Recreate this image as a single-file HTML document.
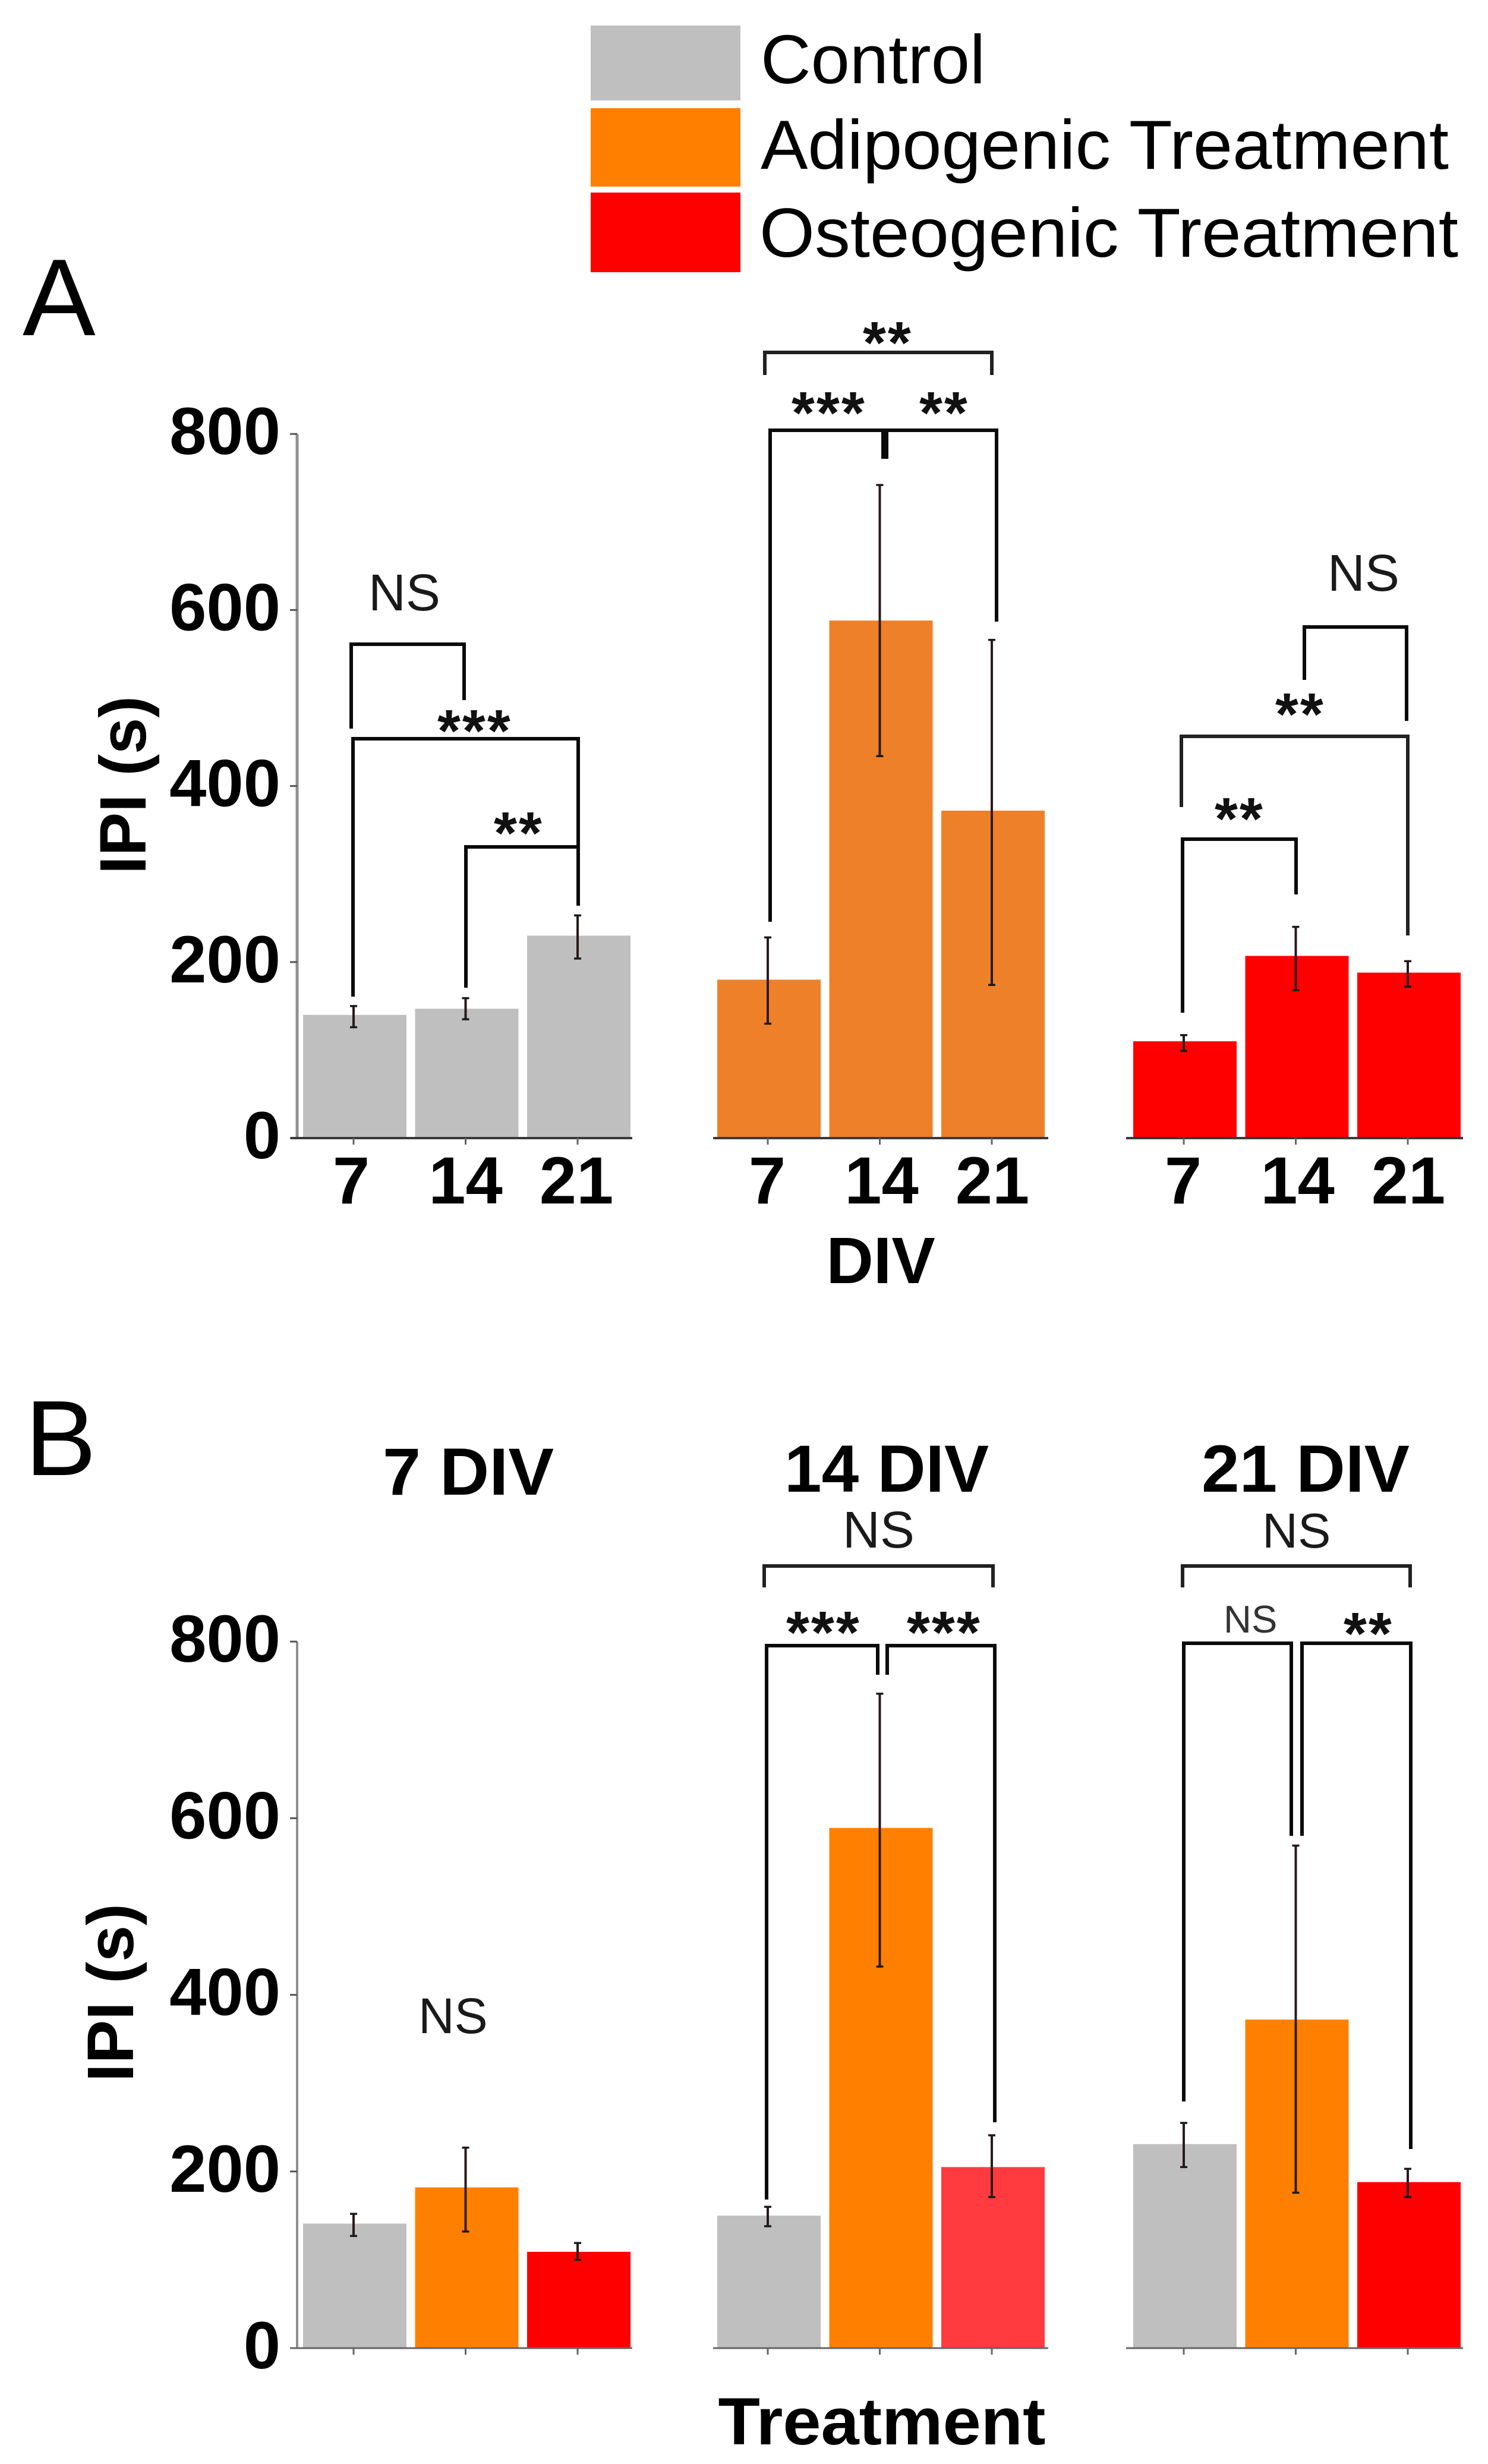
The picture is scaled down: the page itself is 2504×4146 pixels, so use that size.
<!DOCTYPE html>
<html lang="en">
<head>
<meta charset="utf-8">
<title>IPI by DIV and treatment</title>
<style>
html,body{margin:0;padding:0;background:#fff;width:2504px;height:4146px;overflow:hidden}
svg{display:block}
text{font-family:"Liberation Sans",Arial,sans-serif;fill:#000}
.b{fill:none;stroke:#0a0a0a;stroke-width:6;stroke-linejoin:miter}
.n{fill:none;stroke:#222;stroke-width:6}
.ns{font-size:87px;fill:#1a1a1a}
.st{font-size:100px;font-weight:700;fill:#111;letter-spacing:3px}
.ti{font-size:112px;font-weight:700}
</style>
</head>
<body>
<svg id="chart" xmlns="http://www.w3.org/2000/svg" width="2504" height="4146" viewBox="0 0 2504 4146">
  <rect width="2504" height="4146" fill="#fff"/>
  <g>
    <rect x="994" y="43" width="252" height="126" fill="#bfbfbf"/>
    <rect x="994" y="182" width="252" height="132" fill="#ff8000"/>
    <rect x="994" y="324" width="252" height="134" fill="#ff0000"/>
    <text x="1280" y="140" font-size="116" textLength="378" lengthAdjust="spacingAndGlyphs">Control</text>
    <text x="1280" y="284" font-size="117" textLength="1158" lengthAdjust="spacingAndGlyphs">Adipogenic Treatment</text>
    <text x="1278" y="432" font-size="117" textLength="1176" lengthAdjust="spacingAndGlyphs">Osteogenic Treatment</text>
  </g>
  <text x="38" y="564" font-size="184">A</text>
  <text x="42" y="2482" font-size="180">B</text>

  <g id="plot-layer"></g>

  <text class="ti" text-anchor="middle" transform="translate(245 1321) rotate(-90)" style="font-size:110px" textLength="300" lengthAdjust="spacingAndGlyphs">IPI (s)</text>
  <text class="ti" text-anchor="middle" transform="translate(224 3353) rotate(-90)" style="font-size:110px" textLength="300" lengthAdjust="spacingAndGlyphs">IPI (s)</text>
  <text class="ti" x="1482" y="2159" text-anchor="middle" style="font-size:110px">DIV</text>
  <text class="ti" x="1484" y="4113" text-anchor="middle" textLength="551" lengthAdjust="spacingAndGlyphs">Treatment</text>
  <text class="ti" x="788" y="2515" text-anchor="middle" textLength="288" lengthAdjust="spacingAndGlyphs">7 DIV</text>
  <text class="ti" x="1492" y="2510" text-anchor="middle" textLength="344" lengthAdjust="spacingAndGlyphs">14 DIV</text>
  <text class="ti" x="2197" y="2510" text-anchor="middle" textLength="350" lengthAdjust="spacingAndGlyphs">21 DIV</text>

  <g>
    <path class="b" d="M591 1226V1084H781V1178"/>
    <path class="b" d="M594 1677V1243H973V1524"/>
    <path class="b" d="M784 1662V1425H972"/>
    <text class="ns" x="620" y="1027">NS</text>
    <text class="st" x="736" y="1264">***</text>
    <text class="st" x="831" y="1436">**</text>

    <path class="n" d="M1287 631V593H1669V631"/>
    <path class="b" d="M1296 1551V724H1486V772"/>
    <path class="b" d="M1492 772V724H1677V1046"/>
    <text class="st" x="1452" y="611">**</text>
    <text class="st" x="1332" y="729">***</text>
    <text class="st" x="1547" y="729">**</text>

    <path class="b" d="M2195 1144V1055H2367V1213"/>
    <path class="n" d="M1988 1358V1239H2369V1574"/>
    <path class="b" d="M1990 1704V1412H2181V1505"/>
    <text class="ns" x="2234" y="994">NS</text>
    <text class="st" x="2146" y="1236">**</text>
    <text class="st" x="2044" y="1412">**</text>
  </g>

  <g>
    <text class="ns" x="704" y="3421" style="font-size:84px">NS</text>

    <path class="n" d="M1286 2671V2635H1671V2671"/>
    <path class="b" d="M1290 3701V2769H1477V2818"/>
    <path class="b" d="M1493 2818V2769H1674V3571"/>
    <text class="ns" x="1418" y="2604">NS</text>
    <text class="st" x="1323" y="2781">***</text>
    <text class="st" x="1526" y="2781">***</text>

    <path class="n" d="M1990 2671V2635H2373V2671"/>
    <path class="b" d="M1992 3536V2765H2173V3089"/>
    <path class="b" d="M2191 3089V2765H2374V3616"/>
    <text class="ns" x="2124" y="2604" style="font-size:83px">NS</text>
    <text class="ns" x="2059" y="2747" style="font-size:65px;fill:#333">NS</text>
    <text class="st" x="2261" y="2783">**</text>
  </g>
</svg>
<script>
const yTickValues = [0, 200, 400, 600, 800];
const divLabels = ['7', '14', '21'];
const treatmentNames = ['control', 'adipogenic', 'osteogenic'];
const divNames = ['7-div', '14-div', '21-div'];

const panelAControlMeans = [140, 147, 230];
const panelAControlUpper = [150, 159, 253];
const panelAControlLower = [126, 135, 204];
const panelAAdipogenicMeans = [180, 588, 372];
const panelAAdipogenicUpper = [228, 742, 566];
const panelAAdipogenicLower = [130, 434, 174];
const panelAOsteogenicMeans = [110, 207, 188];
const panelAOsteogenicUpper = [117, 240, 201];
const panelAOsteogenicLower = [99, 168, 172];

const panelBDay7Means = [141, 182, 109];
const panelBDay7Upper = [152, 227, 119];
const panelBDay7Lower = [127, 132, 100];
const panelBDay14Means = [150, 589, 205];
const panelBDay14Upper = [160, 741, 241];
const panelBDay14Lower = [138, 432, 171];
const panelBDay21Means = [231, 372, 188];
const panelBDay21Upper = [255, 569, 203];
const panelBDay21Lower = [205, 176, 171];

const NS = 'http://www.w3.org/2000/svg';
const layer = document.getElementById('plot-layer');

function make(tag, attrs, parent) {
  const el = document.createElementNS(NS, tag);
  for (const k in attrs) el.setAttribute(k, attrs[k]);
  (parent || layer).appendChild(el);
  return el;
}
function yScaleA(v) { return 1915 - v * 1.481; }
function yScaleB(v) { return 3951 - v * 1.486; }
function barLeft(group, i) { return [510, 1207, 1907][group] + i * 188.5; }
function barCenter(group, i) { return barLeft(group, i) + 85; }
const BAR_WIDTH = 174;

function drawYAxis(yScale, key, axisWidth) {
  const axis = make('line', {x1: 500, x2: 500, y1: yScale(800), y2: yScale(0), stroke: '#8f8f8f', 'stroke-width': axisWidth});
  
  
  yTickValues.forEach(function (v) {
    const tick = make('line', {x1: 488, x2: 500, y1: yScale(v), y2: yScale(v), stroke: '#555', 'stroke-width': 3});
    
    
    const label = make('text', {x: 472, y: yScale(v) + 34, 'text-anchor': 'end', 'font-size': 112, 'font-weight': 700});
    
    
    label.textContent = String(v);
  });
}

function drawGroup(opts) {
  const g = opts.group, y = opts.yScale;
  const ax = [[489, 1064], [1200, 1764], [1895, 2462]][g];
  opts.means.forEach(function (m, i) {
    const bar = make('rect', {x: barLeft(g, i), y: y(m), width: BAR_WIDTH, height: y(0) - y(m), fill: opts.colors[i]});
    
    
  });
  const axis = make('line', {x1: ax[0], x2: ax[1], y1: y(0), y2: y(0), stroke: opts.axisColor, 'stroke-width': opts.axisWidth});
  
  
  opts.means.forEach(function (m, i) {
    const c = barCenter(g, i);
    const stem = make('line', {x1: c, x2: c, y1: y(opts.upper[i]), y2: y(opts.lower[i]), stroke: '#2a1a1a', 'stroke-width': 4});
    
    
    [opts.upper[i], opts.lower[i]].forEach(function (v) {
      const cap = make('line', {x1: c - 6, x2: c + 6, y1: y(v), y2: y(v), stroke: '#1a1a1a', 'stroke-width': 3.5});
      
      
    });
    const tick = make('line', {x1: c, x2: c, y1: y(0), y2: y(0) + 11, stroke: '#666', 'stroke-width': 3});
    
    
    if (opts.labels) {
      const label = make('text', {x: c + [-4, 0, -2][i] + (g > 0 ? 3 : 0), y: 2025, 'text-anchor': 'middle', 'font-size': 112, 'font-weight': 700});
      
      
      label.textContent = opts.labels[i];
    }
  });
}

drawYAxis(yScaleA, 'a', 5);
drawYAxis(yScaleB, 'b', 4);

const panelAGroups = [
  {key: 'a-control', means: panelAControlMeans, upper: panelAControlUpper, lower: panelAControlLower, colors: ['#bfbfbf', '#bfbfbf', '#bfbfbf']},
  {key: 'a-adipogenic', means: panelAAdipogenicMeans, upper: panelAAdipogenicUpper, lower: panelAAdipogenicLower, colors: ['#ed8029', '#ed8029', '#ed8029']},
  {key: 'a-osteogenic', means: panelAOsteogenicMeans, upper: panelAOsteogenicUpper, lower: panelAOsteogenicLower, colors: ['#ff0000', '#ff0000', '#ff0000']}
];
panelAGroups.forEach(function (p, g) {
  drawGroup({group: g, key: p.key, means: p.means, upper: p.upper, lower: p.lower, colors: p.colors, yScale: yScaleA, names: divLabels, labels: divLabels, axisColor: '#3a3a3a', axisWidth: 4});
});

const panelBGroups = [
  {means: panelBDay7Means, upper: panelBDay7Upper, lower: panelBDay7Lower, colors: ['#bfbfbf', '#ff8000', '#ff0000']},
  {means: panelBDay14Means, upper: panelBDay14Upper, lower: panelBDay14Lower, colors: ['#bfbfbf', '#ff8000', '#ff3b3f']},
  {means: panelBDay21Means, upper: panelBDay21Upper, lower: panelBDay21Lower, colors: ['#bfbfbf', '#ff8000', '#ff0000']}
];
panelBGroups.forEach(function (p, g) {
  drawGroup({group: g, key: 'b-' + divNames[g], means: p.means, upper: p.upper, lower: p.lower, colors: p.colors, yScale: yScaleB, names: treatmentNames, labels: null, axisColor: '#666', axisWidth: 3});
});
</script>
</body>
</html>
